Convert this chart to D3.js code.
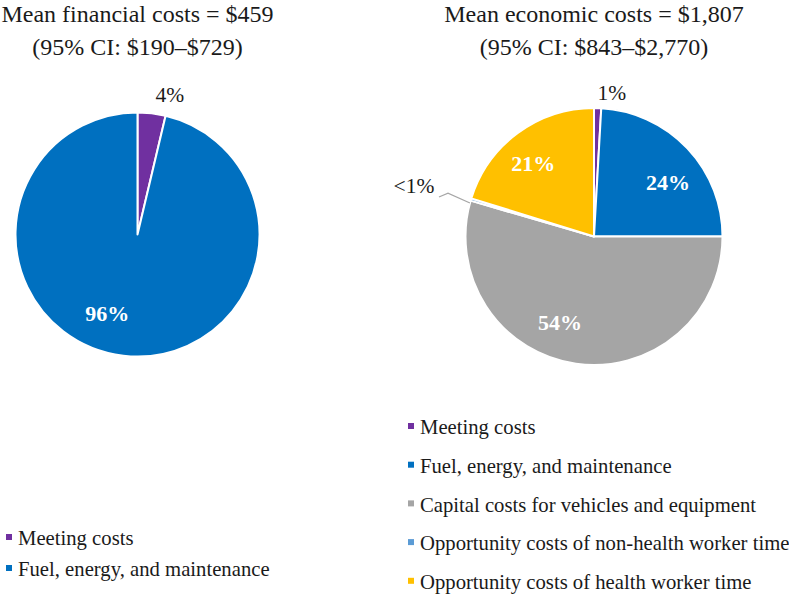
<!DOCTYPE html>
<html><head><meta charset="utf-8">
<script src="https://cdn.jsdelivr.net/npm/d3@7"></script>
<style>body{margin:0;background:#fff}svg{display:block}</style>
</head><body><svg id="c" width="789" height="594"></svg>
<script>
// ---- data ----
const finCategories = ["Meeting costs", "Fuel, energy, and maintenance"];
const finValues = [3.7, 96.3];
const finLabels = ["4%", "96%"];

const ecoCategories = ["Meeting costs", "Fuel, energy, and maintenance", "Capital costs for vehicles and equipment", "Opportunity costs of non-health worker time", "Opportunity costs of health worker time"];
const ecoValues = [0.9, 24.1, 54.5, 0.3, 20.2];
const ecoLabels = ["1%", "24%", "54%", "<1%", "21%"];

const colorMap = {
  "Meeting costs": "#7030A0",
  "Fuel, energy, and maintenance": "#0070C0",
  "Capital costs for vehicles and equipment": "#A5A5A5",
  "Opportunity costs of non-health worker time": "#5B9BD5",
  "Opportunity costs of health worker time": "#FFC000"
};

// ---- layout ----
const svg = d3.select("#c");
const font = "'Liberation Serif','Times New Roman',serif";
const deg = Math.PI / 180;

function polar(cx, cy, a, r) { return [cx + r * Math.sin(a * deg), cy - r * Math.cos(a * deg)]; }

function drawPie(cfg) {
  const g = svg.append("g");
  const pie = d3.pie().sort(null).value(d => d.v);
  const data = cfg.cats.map((c, i) => ({c, v: cfg.vals[i], l: cfg.labels[i]}));
  const arcs = pie(data);
  const arc = d3.arc().innerRadius(0).outerRadius(cfg.r);
  g.selectAll("path").data(arcs).join("path")
    .attr("transform", `translate(${cfg.cx},${cfg.cy})`)
    .attr("d", arc).attr("fill", d => colorMap[d.data.c])
    .attr("stroke", "#fff").attr("stroke-width", 2).attr("stroke-linejoin", "round");
  // titles
  cfg.title.forEach((t, i) => {
    g.append("text").attr("x", cfg.cx).attr("y", cfg.titleY + i * 33)
      .attr("text-anchor", "middle").attr("font-family", font).attr("font-size", 24)
      .attr("fill", "#1a1a1a").text(t);
  });
  // labels
  arcs.forEach((d, i) => {
    const p = cfg.place[i];
    const [x, y] = polar(cfg.cx, cfg.cy, p.a, p.k * cfg.r);
    g.append("text").attr("x", x).attr("y", y).attr("dy", "0.35em")
      .attr("text-anchor", "middle").attr("font-family", font)
      .attr("font-size", p.inside ? 22 : 21.5)
      .attr("font-weight", p.inside ? "bold" : "normal")
      .attr("fill", p.inside ? "#fff" : "#1a1a1a").text(d.data.l);
    if (p.leader) {
      g.append("polyline").attr("fill", "none").attr("stroke", "#a6a6a6").attr("stroke-width", 1.3)
        .attr("points", p.leader.map(q => polar(cfg.cx, cfg.cy, q[0], q[1] * cfg.r).join(",")).join(" "));
    }
  });
  // legend
  cfg.cats.forEach((c, i) => {
    const y = cfg.legY + i * cfg.legStep;
    g.append("rect").attr("x", cfg.legX).attr("y", y - 4).attr("width", 6).attr("height", 6)
      .attr("fill", colorMap[c]);
    g.append("text").attr("x", cfg.legX + 12).attr("y", y).attr("dy", "0.35em")
      .attr("font-family", font).attr("font-size", 20.7).attr("fill", "#1a1a1a").text(c);
  });
}

drawPie({
  cats: finCategories, vals: finValues, labels: finLabels,
  cx: 137.5, cy: 234.5, r: 122,
  title: ["Mean financial costs = $459", "(95% CI: $190\u2013$729)"], titleY: 22,
  place: [{a: 13, k: 1.18}, {a: 201, k: 0.69, inside: true}],
  legX: 6, legY: 538, legStep: 31
});

drawPie({
  cats: ecoCategories, vals: ecoValues, labels: ecoLabels,
  cx: 594, cy: 236.5, r: 128.5,
  title: ["Mean economic costs = $1,807", "(95% CI: $843\u2013$2,770)"], titleY: 22,
  place: [{a: 7.1, k: 1.13}, {a: 53.6, k: 0.715, inside: true}, {a: 201.7, k: 0.716, inside: true},
          {a: 285.7, k: 1.455, leader: [[285.1, 1.0], [286.5, 1.185], [284.3, 1.245]]}, {a: 320.3, k: 0.74, inside: true}],
  legX: 408, legY: 427, legStep: 38.7
});
</script></body></html>
